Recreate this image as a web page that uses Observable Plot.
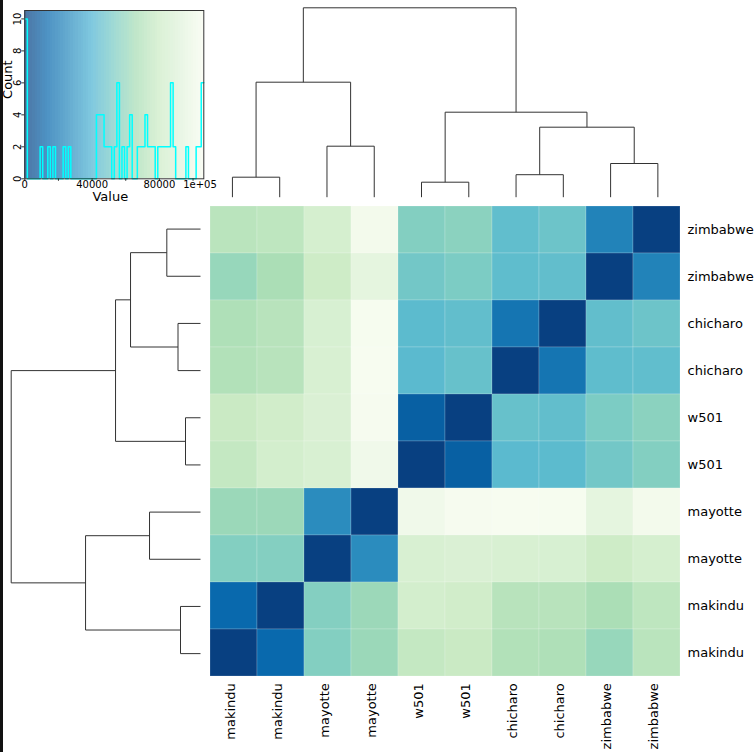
<!DOCTYPE html>
<html><head><meta charset="utf-8">
<script src="https://cdn.jsdelivr.net/npm/d3@7"></script>
<script src="https://cdn.jsdelivr.net/npm/@observablehq/plot@0.6"></script>
<style>
html,body{margin:0;padding:0;background:#fff;}
#chart{position:relative;width:756px;height:752px;overflow:hidden;background:#fff;}
#chart svg{position:absolute;left:0;top:0;}
#edge{position:absolute;left:0;top:0;width:3px;height:752px;background:#111;z-index:5;}
</style></head>
<body><div id="chart"><div id="edge"></div></div>
<script>
// ---- data ----
const sampleNames = ["makindu","makindu","mayotte","mayotte","w501","w501","chicharo","chicharo","zimbabwe","zimbabwe"];
// symmetric distance matrix, rows/cols in sampleNames order
const distances = [
  [0, 13700, 55600, 62800, 77000, 79200, 70200, 69000, 61600, 73000],
  [13700, 0, 55800, 62900, 84500, 83000, 72300, 72500, 67500, 74800],
  [55600, 55800, 0, 26600, 87500, 88800, 87800, 87400, 81000, 86000],
  [62800, 62900, 26600, 0, 102600, 105600, 106400, 105700, 95800, 103800],
  [77000, 84500, 87500, 102600, 0, 10600, 43600, 43900, 50800, 55500],
  [79200, 83000, 88800, 105600, 10600, 0, 47400, 45900, 53500, 58000],
  [70200, 72300, 87800, 106400, 43600, 47400, 0, 18100, 45000, 45500],
  [69000, 72500, 87400, 105700, 43900, 45900, 18100, 0, 45700, 49200],
  [61600, 67500, 81000, 95800, 50800, 53500, 45000, 45700, 0, 23200],
  [73000, 74800, 86000, 103800, 55500, 58000, 45500, 49200, 23200, 0]
];
// hclust-style merges (negative = leaf index, 1-based; positive = earlier merge)
const mergePairs = [[-1,-2],[-3,-4],[1,2],[-5,-6],[-7,-8],[-9,-10],[5,6],[4,7],[3,8]];
const mergeHeights = [20000, 51000, 115000, 15000, 22500, 33700, 70000, 85000, 189400];
const keyXTicks = [0, 20000, 40000, 60000, 80000, 100000];
const keyXLabels = ["0", "", "40000", "", "80000", "1e+05"];
const keyYTicks = [0, 2, 4, 6, 8, 10];
const gnbu = ["#f7fcf0","#e0f3db","#ccebc5","#a8ddb5","#7bccc4","#4eb3d3","#2b8cbe","#0868ac","#084081"];

// ---- derived ----
const n = sampleNames.length;
const rowNames = sampleNames.slice().reverse();
const allValues = distances.flat();
const vMin = d3.min(allValues), vMax = d3.max(allValues);
const colorRange = gnbu.slice().reverse();
const colorDomain = colorRange.map((_, i) => vMin + (vMax - vMin) * i / (colorRange.length - 1));
const colorScale = {type: "linear", domain: colorDomain, range: colorRange, interpolate: "rgb"};

const cells = [];
for (let r = 0; r < n; r++) for (let c = 0; c < n; c++) cells.push({row: r, col: c, value: distances[n - 1 - r][c]});

function dendroSegments() {
  const pos = [], ht = [], segs = [];
  const get = id => id < 0 ? {p: -id - 1 + 0.5, h: 0} : {p: pos[id - 1], h: ht[id - 1]};
  mergePairs.forEach(([a, b], k) => {
    const A = get(a), B = get(b), h = mergeHeights[k];
    segs.push({p1: A.p, h1: A.h, p2: A.p, h2: h});
    segs.push({p1: B.p, h1: B.h, p2: B.p, h2: h});
    segs.push({p1: A.p, h1: h, p2: B.p, h2: h});
    pos.push((A.p + B.p) / 2); ht.push(h);
  });
  return segs;
}
const segs = dendroSegments();
const rootH = d3.max(mergeHeights);

const nBins = 70;
const thresholds = d3.range(1, nBins).map(i => vMin + (vMax - vMin) * i / nBins);
const bins = d3.bin().domain([vMin, vMax]).thresholds(thresholds)(allValues);
const steps = bins.map(b => ({x: b.x0, y: b.length}));
steps.push({x: vMax, y: bins[bins.length - 1].length});
const maxCount = d3.max(bins, b => b.length);
const keyRects = bins.map(b => ({x1: b.x0, x2: b.x1, v: (b.x0 + b.x1) / 2}));
const keyLabelData = keyXTicks.map((t, i) => ({t, label: keyXLabels[i]})).filter(d => d.label !== "");
const lastTick = keyXTicks[keyXTicks.length - 1];

const W = 756, H = 752;
const chart = document.getElementById("chart");
const baseStyle = {background: "transparent", fontFamily: "DejaVu Sans", color: "black", overflow: "visible"};

// ---- color key ----
const key = Plot.plot({
  width: W, height: H,
  marginLeft: 24.3, marginRight: W - 203.3, marginTop: 10, marginBottom: H - 178.3,
  style: {...baseStyle, fontSize: "10px"},
  x: {type: "linear", domain: [vMin, vMax], axis: null},
  y: {type: "linear", domain: [0, maxCount / 0.95], axis: null},
  color: colorScale,
  marks: [
    Plot.rect(keyRects, {x1: "x1", x2: "x2", fill: "v", fillOpacity: 0.72, shapeRendering: "crispEdges"}),
    Plot.line(steps, {x: "x", y: "y", curve: "step-after", stroke: "cyan", strokeWidth: 1.5}),
    Plot.frame({stroke: "#333", strokeWidth: 1}),
    Plot.axisX(keyXTicks, {anchor: "bottom", tickSize: 2.5, stroke: "#333", tickFormat: () => "", label: null}),
    Plot.text(keyLabelData.filter(d => d.t !== lastTick), {x: "t", text: "label", frameAnchor: "bottom",
      dy: 2.5, lineAnchor: "top", fill: "black"}),
    Plot.text(keyLabelData.filter(d => d.t === lastTick), {x: "t", text: "label", frameAnchor: "bottom",
      dy: 2.5, dx: 7, lineAnchor: "top", fill: "black"}),
    Plot.axisY(keyYTicks, {anchor: "left", tickSize: 3, stroke: "#333", tickFormat: () => "", label: null}),
    Plot.text(keyYTicks, {y: d => d, frameAnchor: "left", text: d => String(d), rotate: -90,
      dx: -4.3, lineAnchor: "bottom", textAnchor: "middle", fill: "black"}),
    Plot.text(["Value"], {frameAnchor: "bottom", text: d => d, dx: -4, dy: 18.5, fontSize: 13,
      lineAnchor: "middle", textAnchor: "middle", fill: "black"}),
    Plot.text(["Count"], {frameAnchor: "left", text: d => d, rotate: -90, dx: -16.8, dy: -15, fontSize: 13,
      lineAnchor: "middle", textAnchor: "middle", fill: "black"})
  ]
});
chart.appendChild(key);

// ---- column dendrogram ----
const colDendro = Plot.plot({
  width: W, height: H,
  marginLeft: 208.3, marginRight: W - 681, marginTop: 7.3, marginBottom: H - 196.7,
  style: baseStyle,
  x: {type: "linear", domain: [0, n], axis: null},
  y: {type: "linear", domain: [0, rootH], axis: null},
  marks: [
    Plot.link(segs, {x1: "p1", y1: "h1", x2: "p2", y2: "h2", stroke: "#333", strokeWidth: 1})
  ]
});
chart.appendChild(colDendro);

// ---- row dendrogram ----
const rowDendro = Plot.plot({
  width: W, height: H,
  marginLeft: 10.7, marginRight: W - 200, marginTop: 205, marginBottom: H - 676.7,
  style: baseStyle,
  x: {type: "linear", domain: [rootH, 0], axis: null},
  y: {type: "linear", domain: [0, n], axis: null},
  marks: [
    Plot.link(segs, {x1: "h1", y1: "p1", x2: "h2", y2: "p2", stroke: "#333", strokeWidth: 1})
  ]
});
chart.appendChild(rowDendro);

// ---- heatmap ----
const heat = Plot.plot({
  width: W, height: H,
  marginLeft: 208.3, marginRight: W - 681, marginTop: 205, marginBottom: H - 676.7,
  style: {...baseStyle, fontSize: "13px"},
  x: {type: "band", domain: d3.range(n), padding: 0, axis: null},
  y: {type: "band", domain: d3.range(n), padding: 0, axis: null},
  color: colorScale,
  marks: [
    Plot.cell(cells, {x: "col", y: "row", fill: "value", stroke: "white", strokeOpacity: 0.3, strokeWidth: 0.6}),
    Plot.axisX({anchor: "bottom", tickSize: 0, tickPadding: 6, tickRotate: -90, dx: -3,
      tickFormat: i => sampleNames[i], label: null, fill: "black"}),
    Plot.axisY({anchor: "right", tickSize: 0, tickPadding: 6,
      tickFormat: i => rowNames[i], label: null, fill: "black"})
  ]
});
chart.appendChild(heat);
</script>
</body></html>
